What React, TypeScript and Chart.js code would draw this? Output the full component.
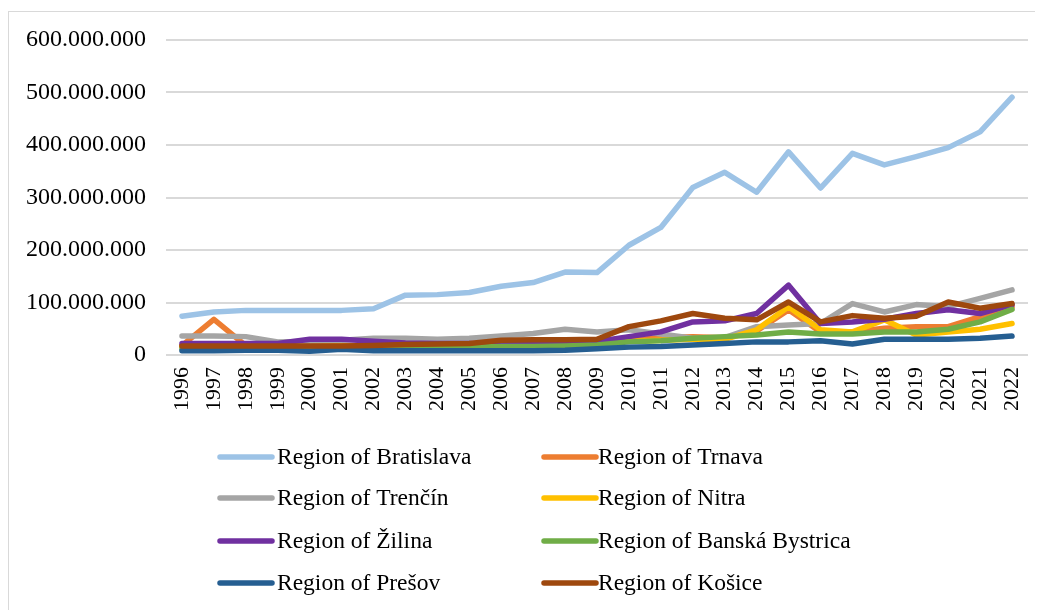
import React, { useEffect, useRef } from "react";
import { Chart, registerables } from "chart.js";

Chart.register(...registerables);

const years = ["1996","1997","1998","1999","2000","2001","2002","2003","2004","2005","2006","2007","2008","2009","2010","2011","2012","2013","2014","2015","2016","2017","2018","2019","2020","2021","2022"];

const seriesNames = ["Region of Bratislava","Region of Trnava","Region of Trenčín","Region of Nitra","Region of Žilina","Region of Banská Bystrica","Region of Prešov","Region of Košice"];
const seriesColors = ["#9DC3E6","#ED7D31","#A5A5A5","#FFC000","#7030A0","#70AD47","#255E91","#9E480E"];

// values in millions
const bratislava = [74,82,85,85,85,85,88,114,115,119,131,138,158,157,209,243,319,348,310,387,318,384,362,378,395,425,491];
const trnava = [18,68,18,17,17,18,18,19,19,20,22,22,24,25,28,33,35,33,46,86,44,44,51,54,54,73,92];
const trencin = [36,36,35,25,26,28,32,32,30,32,36,41,49,44,48,40,32,33,54,57,60,98,82,96,92,108,124];
const nitra = [16,16,16,16,16,17,18,18,19,20,25,25,25,24,26,28,30,30,48,92,48,44,67,38,44,49,60];
const zilina = [22,22,22,22,30,30,26,23,22,22,22,22,23,26,35,44,63,65,79,133,60,63,68,79,86,79,96];
const banskaBystrica = [12,12,12,12,12,13,14,14,14,15,16,16,17,19,25,27,32,35,38,44,40,40,44,44,49,63,87];
const presov = [8,8,9,9,7,11,8,8,8,8,8,8,9,12,15,16,19,22,25,25,27,21,30,30,30,32,36];
const kosice = [17,17,17,17,17,17,18,20,21,22,28,29,29,30,54,65,79,70,67,101,63,75,70,74,101,89,98];

const seriesValues = [bratislava, trnava, trencin, nitra, zilina, banskaBystrica, presov, kosice];

const FONT = "'Liberation Serif', 'Times New Roman', serif";

const legendPlugin = {
  id: "gridLegend",
  afterDraw(chart: any) {
    const ctx = chart.ctx;
    const cols = [{ line: 208, text: 268 }, { line: 532, text: 589 }];
    const rows = [445, 486, 529, 571];
    ctx.save();
    ctx.font = `23.5px ${FONT}`;
    ctx.textBaseline = "middle";
    ctx.textAlign = "left";
    chart.data.datasets.forEach((ds: any, i: number) => {
      const c = cols[i % 2];
      const y = rows[Math.floor(i / 2)];
      ctx.strokeStyle = ds.borderColor;
      ctx.lineWidth = 5.5;
      ctx.lineCap = "round";
      ctx.beginPath();
      ctx.moveTo(c.line + 3, y);
      ctx.lineTo(c.line + 55, y);
      ctx.stroke();
      ctx.fillStyle = "#000";
      ctx.fillText(ds.label, c.text, y + 1);
    });
    ctx.restore();
  },
};

export default function App() {
  const ref = useRef<HTMLCanvasElement>(null);
  useEffect(() => {
    if (!ref.current) return;
    const chart = new Chart(ref.current, {
      type: "line",
      data: {
        labels: years,
        datasets: seriesNames.map((name, i) => ({
          label: name,
          data: seriesValues[i].map((v) => v * 1000000),
          borderColor: seriesColors[i],
          backgroundColor: seriesColors[i],
          borderWidth: 5.5,
          pointRadius: 0,
          tension: 0,
          borderCapStyle: "round",
          borderJoinStyle: "round",
          order: seriesNames.length - 1 - i,
        })),
      },
      options: {
        animation: false,
        responsive: false,
        layout: { padding: { left: 0, right: 15, top: 28, bottom: 196 } },
        plugins: { legend: { display: false }, tooltip: { enabled: false } },
        scales: {
          x: {
            offset: true,
            grid: { display: false },
            border: { display: false },
            ticks: {
              font: { family: FONT, size: 22 },
              color: "#000",
              minRotation: 90,
              maxRotation: 90,
              autoSkip: false,
              padding: 4,
            },
            afterFit: (s: any) => { s.height = 60; s.paddingLeft = 0; s.paddingRight = 0; },
          },
          y: {
            min: 0,
            max: 600000000,
            grid: { color: "#d9d9d9", lineWidth: 2, drawTicks: false },
            border: { display: false },
            ticks: {
              stepSize: 100000000,
              font: { family: FONT, size: 24 },
              color: "#000",
              padding: 20,
              callback: (v: any) => Number(v).toLocaleString("de-DE"),
            },
            afterFit: (s: any) => { s.width = 157; s.paddingTop = 0; s.paddingBottom = 0; },
          },
        },
      },
      plugins: [legendPlugin],
    });
    return () => chart.destroy();
  }, []);
  return (
    <div style={{ marginTop: 3, borderLeft: "1px solid #d9d9d9", borderTop: "1px solid #d9d9d9", width: 1034, height: 599, background: "#fff" }}>
      <canvas ref={ref} width={1034} height={599} style={{ display: "block" }} />
    </div>
  );
}
